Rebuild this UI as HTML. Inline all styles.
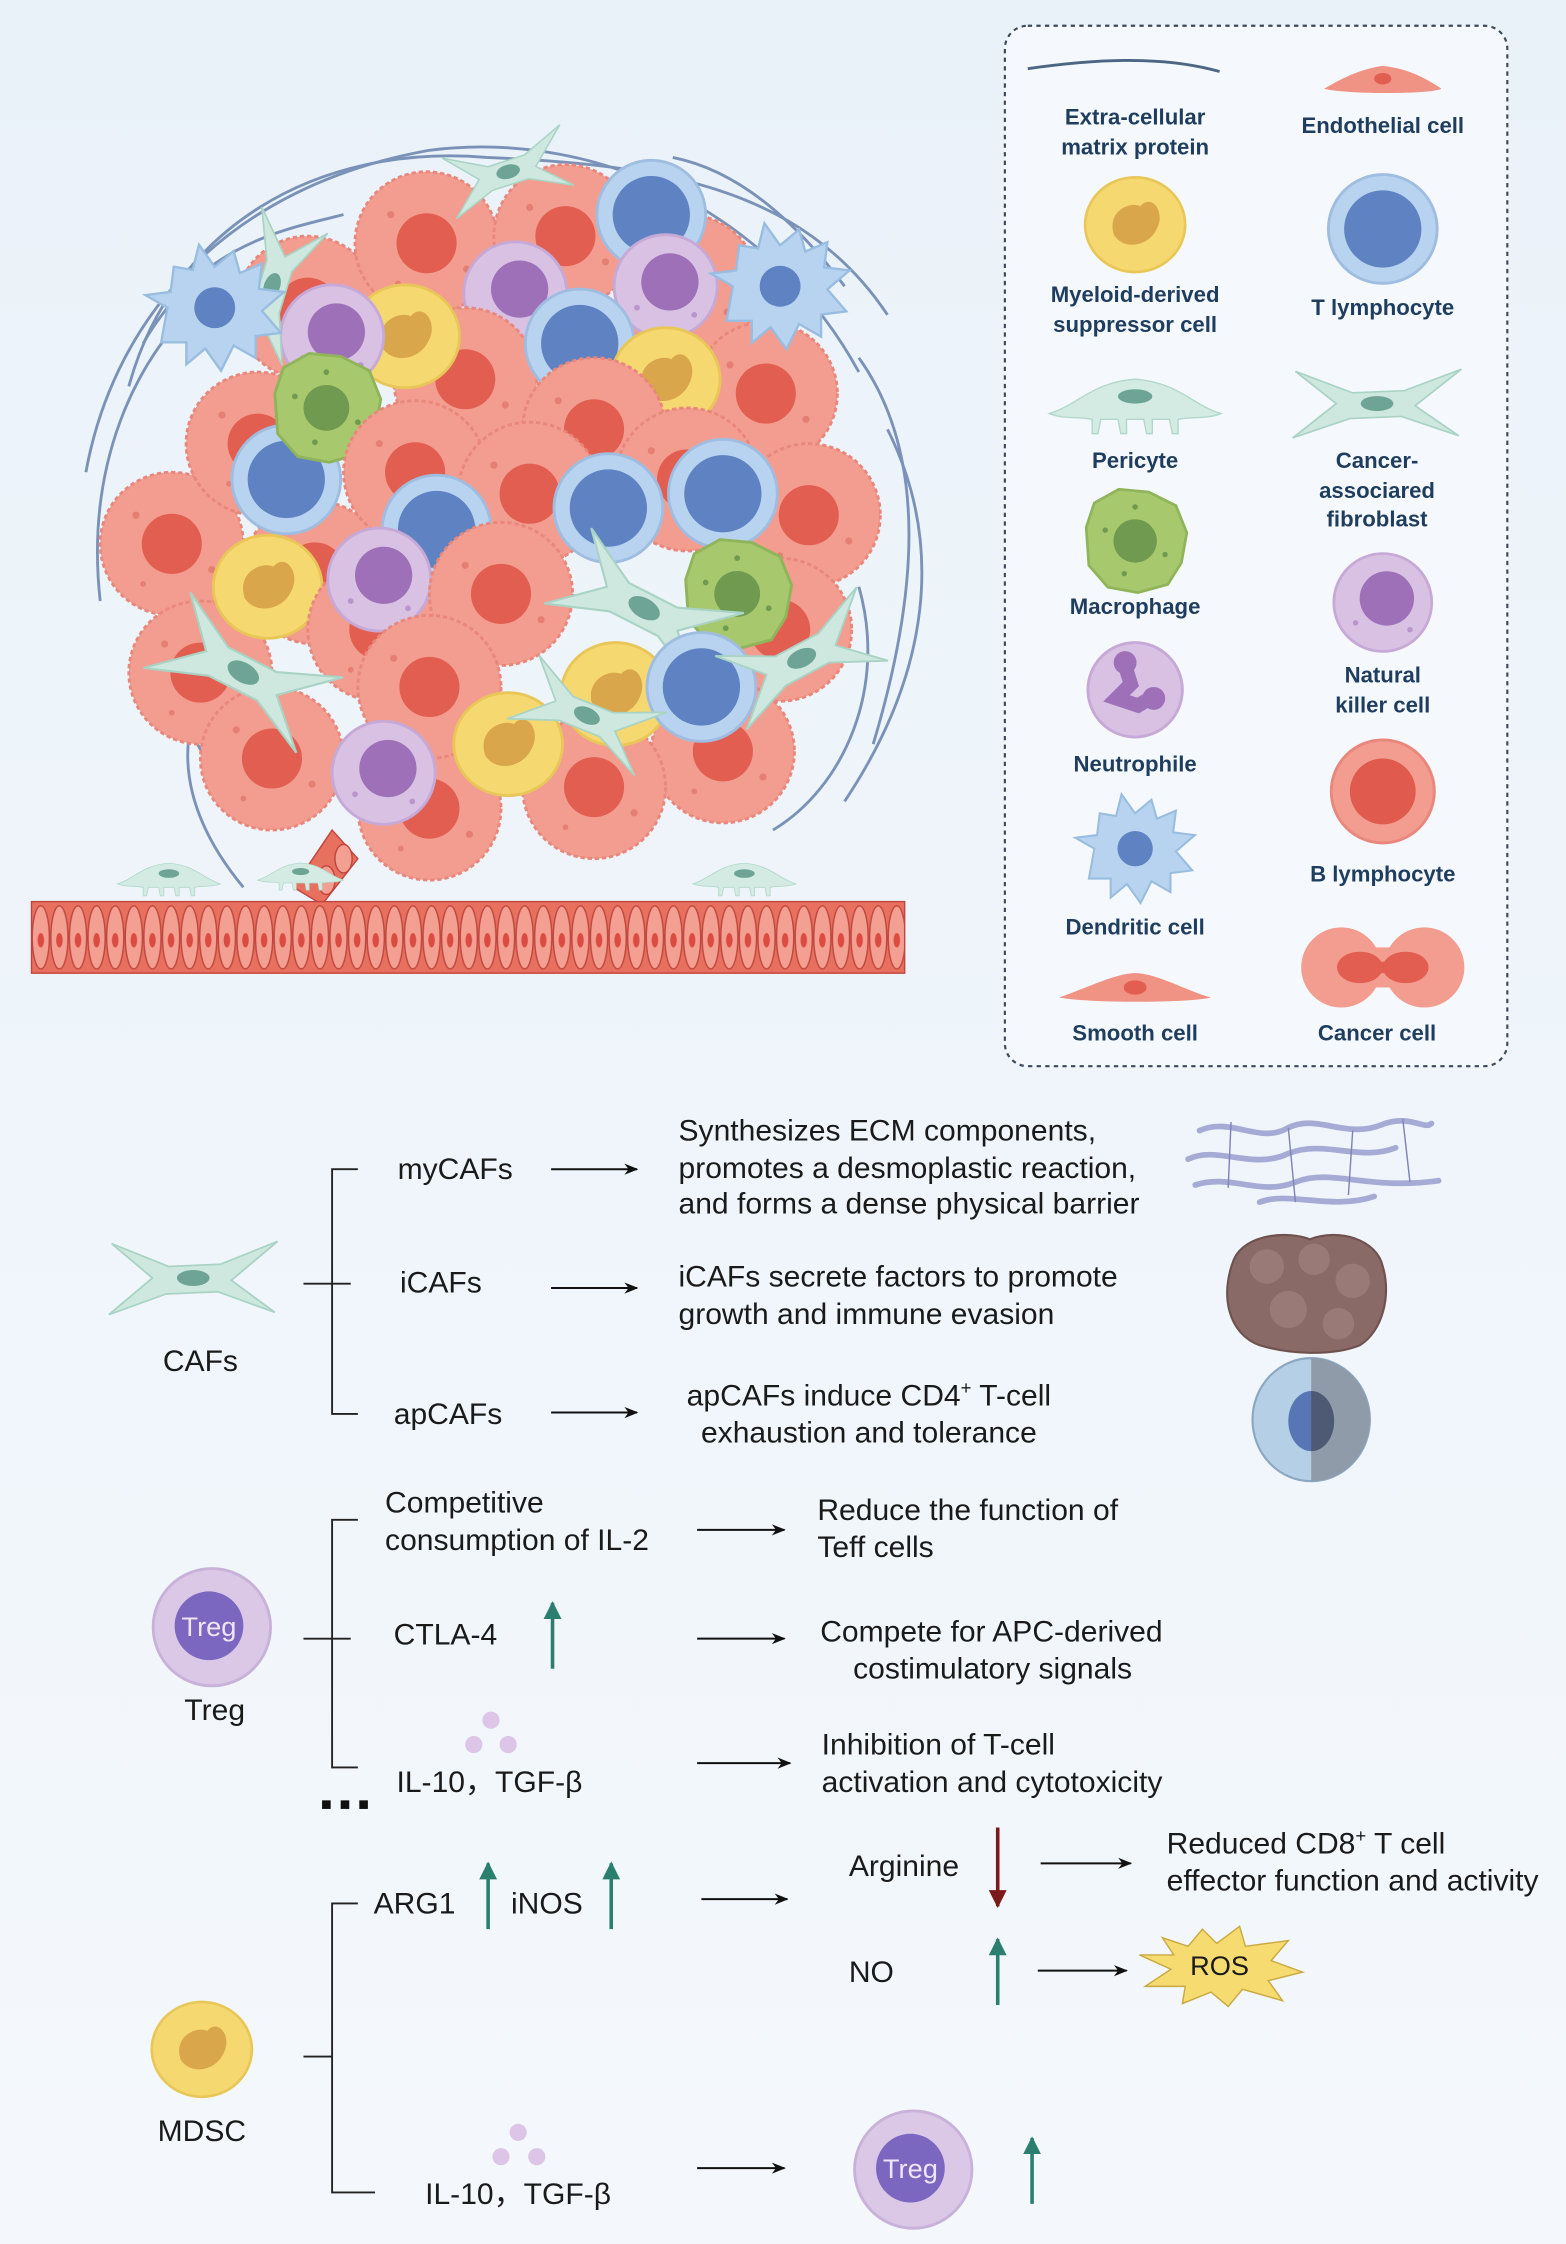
<!DOCTYPE html>
<html><head><meta charset="utf-8"><style>
html,body{margin:0;padding:0;width:1566px;height:2244px;overflow:hidden;background:#eef4fa}
svg{display:block}
text{font-family:"Liberation Sans",sans-serif}
.lg{font-weight:bold;font-size:15.5px;fill:#1f3d5e;text-anchor:middle}
.t{font-size:21px;fill:#1a1a1a}
</style></head><body>
<svg width="1566" height="2244" viewBox="0 0 1094 1568" preserveAspectRatio="none" xmlns="http://www.w3.org/2000/svg">
<defs>
<linearGradient id="bg" x1="0" y1="0" x2="0" y2="1"><stop offset="0" stop-color="#eaf2f9"/><stop offset="1" stop-color="#f4f8fc"/></linearGradient>
<g id="ca"><circle r="50" fill="#f29d8f" stroke="#e9877c" stroke-width="2" stroke-dasharray="3 2"/><circle r="21" fill="#e25e51"/><circle cx="-25" cy="-20" r="2.5" fill="#e57f73"/><circle cx="28" cy="18" r="2.5" fill="#e57f73"/><circle cx="-20" cy="28" r="2" fill="#e57f73"/></g>
<g id="tc"><circle r="38" fill="#b8d3ef" stroke="#9fbde0" stroke-width="2"/><circle r="27" fill="#5f83c2"/></g>
<g id="ye"><ellipse rx="38" ry="36" fill="#f6d870" stroke="#e9c658" stroke-width="2"/><path d="M-16,8 C-22,-10 -4,-18 4,-14 C12,-24 24,-10 16,4 C10,16 -8,20 -16,8Z" fill="#d9a64b"/></g>
<g id="nk"><circle r="36" fill="#d8c1e3" stroke="#c6a9d6" stroke-width="2"/><circle cx="3" cy="-3" r="20" fill="#9d70b8"/><circle cx="-20" cy="15" r="2" fill="#b895cc"/><circle cx="20" cy="20" r="2" fill="#b895cc"/></g>
<g id="ma"><path d="M-36,-10 L-30,-28 L-12,-38 L10,-36 L30,-26 L38,-6 L34,16 L24,32 L2,38 L-20,34 L-34,18Z" fill="#a8c86e" stroke="#8fb45a" stroke-width="2"/><circle r="16" fill="#6f9a4f"/><circle cx="-22" cy="-8" r="2" fill="#6f9a4f"/><circle cx="22" cy="10" r="2" fill="#6f9a4f"/><circle cx="0" cy="-25" r="2" fill="#6f9a4f"/><circle cx="-8" cy="24" r="2" fill="#6f9a4f"/></g>
<g id="caf"><path d="M-60,-30 L-18,-10 L20,-12 L62,-32 L28,2 L60,30 L18,12 L-20,14 L-62,32 L-30,0Z" fill="#cfe8df" stroke="#a9d3c4" stroke-width="1.5"/><ellipse rx="12" ry="7" fill="#6ea496"/></g>
<g id="dc"><path d="M-30,0 L-44,-8 L-28,-10 L-26,-26 L-14,-24 L-10,-40 L0,-26 L12,-36 L16,-22 L30,-28 L28,-12 L44,-10 L30,2 L42,16 L26,18 L26,32 L12,24 L4,40 L-6,26 L-18,36 L-18,22 L-34,22 Z" fill="#b8d3ef" stroke="#98bde0" stroke-width="1.5"/><circle r="13" fill="#5f83c2"/></g>
<g id="pe"><path d="M-60,6 C-40,0 -30,-16 0,-18 C30,-16 40,0 60,6 C50,10 40,8 30,10 L30,20 L26,20 L24,10 L12,10 L12,20 L8,20 L6,10 L-6,10 L-6,20 L-10,20 L-12,10 L-24,10 L-26,20 L-30,20 L-30,10 C-40,8 -50,10 -60,6Z" fill="#d3ebe3" stroke="#b3d8cb" stroke-width="1"/><ellipse cy="-6" rx="12" ry="5" fill="#6ea496"/></g>
<pattern id="ves" x="22" y="630" width="13" height="50" patternUnits="userSpaceOnUse"><rect width="13" height="50" fill="#e8705f"/><ellipse cx="6.5" cy="25" rx="6" ry="22" fill="#f3a092" stroke="#c0463e" stroke-width="1"/><ellipse cx="6.5" cy="27" rx="2.3" ry="5" fill="#dc4b42"/></pattern>
<marker id="ah" viewBox="0 0 10 10" refX="9" refY="5" markerWidth="7" markerHeight="7" orient="auto"><path d="M0,1 L10,5 L0,9 L3,5Z" fill="#111"/></marker>
<marker id="gh" viewBox="0 0 10 10" refX="9" refY="5" markerWidth="5" markerHeight="5" orient="auto"><path d="M0,0 L10,5 L0,10Z" fill="#2a7f6f"/></marker>
<marker id="rh" viewBox="0 0 10 10" refX="9" refY="5" markerWidth="5" markerHeight="5" orient="auto"><path d="M0,0 L10,5 L0,10Z" fill="#7b1a1a"/></marker>
</defs>
<rect width="1094" height="1568" fill="url(#bg)"/>

<g fill="none" stroke="#7b92b8" stroke-width="2">
<path d="M90,270 C120,160 220,100 340,110 C460,115 560,130 620,220"/>
<path d="M60,330 C80,220 160,130 300,105 C420,90 540,150 600,260"/>
<path d="M70,420 C60,330 90,250 150,200"/>
<path d="M600,250 C650,320 640,420 610,520"/>
<path d="M620,300 C660,380 650,470 590,560"/>
<path d="M150,540 C110,480 110,430 140,380"/>
<path d="M170,620 C120,560 120,500 160,460"/>
<path d="M540,580 C590,550 620,480 600,410"/>
<path d="M100,240 C140,170 200,160 240,150"/>
<path d="M470,110 C520,120 560,160 590,200"/>
</g>

<g>
<use href="#ca" transform="translate(120,380)"/>
<use href="#ca" transform="translate(140,470)"/>
<use href="#ca" transform="translate(180,310)"/>
<use href="#ca" transform="translate(215,215)"/>
<use href="#ca" transform="translate(298,170)"/>
<use href="#ca" transform="translate(395,165)"/>
<use href="#ca" transform="translate(480,200)"/>
<use href="#ca" transform="translate(535,275)"/>
<use href="#ca" transform="translate(565,360)"/>
<use href="#ca" transform="translate(545,440)"/>
<use href="#ca" transform="translate(505,525)"/>
<use href="#ca" transform="translate(190,530)"/>
<use href="#ca" transform="translate(300,565)"/>
<use href="#ca" transform="translate(415,550)"/>
<use href="#ca" transform="translate(220,400)"/>
<use href="#tc" transform="translate(455,150)"/>
<use href="#nk" transform="translate(465,200)"/>
<use href="#nk" transform="translate(360,205)"/>
<use href="#ca" transform="translate(325,265)"/>
<use href="#ye" transform="translate(283,235)"/>
<use href="#nk" transform="translate(232,235)"/>
<use href="#tc" transform="translate(405,240)"/>
<use href="#ye" transform="translate(465,265)"/>
<use href="#ca" transform="translate(415,300)"/>
<use href="#ca" transform="translate(480,335)"/>
<use href="#tc" transform="translate(505,345)"/>
<use href="#tc" transform="translate(200,335)"/>
<use href="#ma" transform="translate(228,285)"/>
<use href="#ca" transform="translate(290,330)"/>
<use href="#ca" transform="translate(370,345)"/>
<use href="#tc" transform="translate(305,370)"/>
<use href="#tc" transform="translate(425,355)"/>
<use href="#ye" transform="translate(187,410)"/>
<use href="#ca" transform="translate(265,440)"/>
<use href="#nk" transform="translate(265,405)"/>
<use href="#ca" transform="translate(350,415)"/>
<use href="#ma" transform="translate(515,415)"/>
<use href="#caf" transform="translate(450,425) rotate(30)"/>
<use href="#ca" transform="translate(300,480)"/>
<use href="#ye" transform="translate(430,485)"/>
<use href="#tc" transform="translate(490,480)"/>
<use href="#caf" transform="translate(560,460) rotate(-25) scale(0.9)"/>
<use href="#nk" transform="translate(268,540)"/>
<use href="#ye" transform="translate(355,520)"/>
<use href="#caf" transform="translate(170,470) rotate(30)"/>
<use href="#caf" transform="translate(410,500) rotate(25) scale(0.8)"/>
<use href="#caf" transform="translate(190,200) rotate(-70) scale(0.8)"/>
<use href="#caf" transform="translate(355,120) rotate(-15) scale(0.7)"/>
<use href="#dc" transform="translate(150,215) scale(1.1)"/>
<use href="#dc" transform="translate(545,200) scale(1.1)"/>
</g>
<path d="M250,600 L232,580 L205,620 L225,632 Z" fill="#e8705f" stroke="#c0463e"/>
<ellipse cx="228" cy="615" rx="6" ry="10" fill="#f3a092" stroke="#c0463e"/>
<ellipse cx="240" cy="600" rx="6" ry="10" fill="#f3a092" stroke="#c0463e"/>
<use href="#pe" transform="translate(118,614) scale(0.6)"/>
<use href="#pe" transform="translate(210,612) scale(0.5)"/>
<use href="#pe" transform="translate(520,614) scale(0.6)"/>
<rect x="22" y="630" width="610" height="50" fill="url(#ves)"/>
<rect x="22" y="630" width="610" height="50" fill="none" stroke="#c0463e" stroke-width="1"/>

<rect x="702" y="18" width="351" height="727" rx="16" fill="#f5f9fd" stroke="#3c4a5c" stroke-width="1.5" stroke-dasharray="3 3"/>
<path d="M718,48 C760,42 810,38 852,50" fill="none" stroke="#4d6684" stroke-width="2"/>
<text class="lg" x="793" y="87">Extra-cellular</text><text class="lg" x="793" y="108">matrix protein</text>
<path d="M925,62 C935,56 950,48 966,46 C985,48 998,56 1007,62 C1000,66 940,66 925,62Z" fill="#f09384"/><ellipse cx="966" cy="55" rx="6" ry="4" fill="#e25e51"/>
<text class="lg" x="966" y="93">Endothelial cell</text>
<use href="#ye" transform="translate(793,157) scale(0.92)"/>
<text class="lg" x="793" y="211">Myeloid-derived</text><text class="lg" x="793" y="232">suppressor cell</text>
<use href="#tc" transform="translate(966,160)"/>
<text class="lg" x="966" y="220">T lymphocyte</text>
<use href="#pe" transform="translate(793,283)"/>
<text class="lg" x="793" y="327">Pericyte</text>
<use href="#caf" transform="translate(962,282) scale(0.95,0.75)"/>
<text class="lg" x="962" y="327">Cancer-</text><text class="lg" x="962" y="348">associared</text><text class="lg" x="962" y="368">fibroblast</text>
<use href="#ma" transform="translate(793,378) scale(0.95)"/>
<text class="lg" x="793" y="429">Macrophage</text>
<use href="#nk" transform="translate(966,421) scale(0.95)"/>
<text class="lg" x="966" y="477">Natural</text><text class="lg" x="966" y="498">killer cell</text>
<circle cx="793" cy="482" r="33" fill="#d8c1e3" stroke="#c6a9d6" stroke-width="2"/>
<path d="M785,462 L790,478 L780,488 L795,493 L805,487" fill="none" stroke="#9d70b8" stroke-width="10" stroke-linecap="round"/>
<circle cx="786" cy="463" r="8" fill="#9d70b8"/><circle cx="806" cy="488" r="8" fill="#9d70b8"/>
<text class="lg" x="793" y="539">Neutrophile</text>
<circle cx="966" cy="553" r="36" fill="#f29d8f" stroke="#e9877c" stroke-width="2"/><circle cx="966" cy="553" r="23" fill="#e05a4d"/>
<text class="lg" x="966" y="616">B lymphocyte</text>
<use href="#dc" transform="translate(793,593) scale(0.95)"/>
<text class="lg" x="793" y="653">Dendritic cell</text>
<path d="M740,697 C760,690 780,680 793,680 C808,680 828,692 846,697 C830,701 760,701 740,697Z" fill="#f09384"/><ellipse cx="793" cy="690" rx="8" ry="5" fill="#e25e51"/>
<text class="lg" x="793" y="727">Smooth cell</text>
<circle cx="937" cy="676" r="28" fill="#f29d8f"/><circle cx="995" cy="676" r="28" fill="#f29d8f"/><rect x="950" y="662" width="32" height="28" fill="#f29d8f"/>
<ellipse cx="950" cy="676" rx="16" ry="11" fill="#e25e51"/><ellipse cx="982" cy="676" rx="16" ry="11" fill="#e25e51"/><rect x="955" y="672" width="22" height="8" fill="#e25e51"/>
<text class="lg" x="962" y="727">Cancer cell</text>

<use href="#caf" transform="translate(135,893) scale(0.95,0.8)"/>
<text class="t" x="140" y="958" text-anchor="middle">CAFs</text>
<g stroke="#222" stroke-width="1.3" fill="none">
<path d="M250,817 H232 V988 H250"/><path d="M212,897 H245"/>
<path d="M250,1062 H232 V1235 H250"/><path d="M212,1145 H245"/>
<path d="M250,1330 H232 V1532 H262"/><path d="M212,1437 H232"/>
</g>
<g stroke="#111" stroke-width="1.4" marker-end="url(#ah)">
<line x1="385" y1="817" x2="445" y2="817"/><line x1="385" y1="900" x2="445" y2="900"/><line x1="385" y1="987" x2="445" y2="987"/>
<line x1="487" y1="1069" x2="548" y2="1069"/><line x1="487" y1="1145" x2="548" y2="1145"/><line x1="487" y1="1232" x2="552" y2="1232"/>
<line x1="490" y1="1327" x2="550" y2="1327"/><line x1="727" y1="1302" x2="790" y2="1302"/><line x1="725" y1="1377" x2="787" y2="1377"/>
<line x1="487" y1="1515" x2="548" y2="1515"/>
</g>
<text class="t" x="318" y="824" text-anchor="middle">myCAFs</text>
<text class="t" x="308" y="903" text-anchor="middle">iCAFs</text>
<text class="t" x="313" y="995" text-anchor="middle">apCAFs</text>
<text class="t" x="474" y="797">Synthesizes ECM components,</text>
<text class="t" x="474" y="823">promotes a desmoplastic reaction,</text>
<text class="t" x="474" y="848">and forms a dense physical barrier</text>
<text class="t" x="474" y="899">iCAFs secrete factors to promote</text>
<text class="t" x="474" y="925">growth and immune evasion</text>
<text class="t" x="607" y="982" text-anchor="middle">apCAFs induce CD4<tspan font-size="13" dy="-8">+</tspan><tspan dy="8"> T-cell</tspan></text>
<text class="t" x="607" y="1008" text-anchor="middle">exhaustion and tolerance</text>
<g fill="none" stroke="#a6abd6" stroke-width="4" stroke-linecap="round">
<path d="M838,790 C860,780 880,800 900,788 C920,778 940,796 965,786 C985,778 995,790 1000,785"/>
<path d="M830,810 C850,800 875,818 900,806 C925,796 950,812 975,802"/>
<path d="M835,828 C860,820 880,836 905,826 C930,816 955,832 1005,825"/>
<path d="M880,840 C900,832 930,846 960,836"/>
</g>
<g stroke="#7e84b8" stroke-width="1"><line x1="860" y1="784" x2="858" y2="830"/><line x1="900" y1="788" x2="905" y2="840"/><line x1="945" y1="790" x2="942" y2="835"/><line x1="980" y1="782" x2="985" y2="826"/></g>
<path d="M862,880 C870,862 900,860 915,866 C935,858 962,866 966,885 C972,905 966,930 950,940 C930,948 900,946 880,940 C858,932 852,905 862,880Z" fill="#8a6a66" stroke="#6f5250" stroke-width="1.5"/>
<g fill="#9a7a76"><circle cx="885" cy="885" r="12"/><circle cx="918" cy="880" r="11"/><circle cx="945" cy="895" r="12"/><circle cx="900" cy="915" r="13"/><circle cx="935" cy="925" r="11"/></g>
<ellipse cx="916" cy="992" rx="41" ry="43" fill="#b5cfe6" stroke="#8aa8c4" stroke-width="1.5"/>
<path d="M916,949 A41,43 0 0 1 916,1035Z" fill="#8f9ba8"/>
<ellipse cx="916" cy="993" rx="16" ry="21" fill="#5876b5"/>
<path d="M916,972 A16,21 0 0 1 916,1014Z" fill="#4e5a74"/>

<circle cx="148" cy="1137" r="41" fill="#dbc8e6" stroke="#c9b2da" stroke-width="2"/>
<circle cx="146" cy="1136" r="24" fill="#7b67bf"/>
<text x="146" y="1143" font-size="19" fill="#ece6f7" text-anchor="middle">Treg</text>
<text class="t" x="150" y="1202" text-anchor="middle">Treg</text>
<text class="t" x="269" y="1057">Competitive</text>
<text class="t" x="269" y="1083">consumption of IL-2</text>
<text class="t" x="571" y="1062">Reduce the function of</text>
<text class="t" x="571" y="1088">Teff cells</text>
<text class="t" x="275" y="1149">CTLA-4</text>
<line x1="386" y1="1166" x2="386" y2="1120" stroke="#2a7f6f" stroke-width="2.5" marker-end="url(#gh)"/>
<text class="t" x="573" y="1147">Compete for APC-derived</text>
<text class="t" x="596" y="1173">costimulatory signals</text>
<g fill="#dcc5e6"><circle cx="343" cy="1202" r="6"/><circle cx="331" cy="1219" r="6"/><circle cx="355" cy="1219" r="6"/></g>
<text class="t" x="277" y="1252">IL-10，TGF-β</text>
<text class="t" x="574" y="1226">Inhibition of T-cell</text>
<text class="t" x="574" y="1252">activation and cytotoxicity</text>
<g fill="#111"><rect x="225" y="1258" width="6" height="6"/><rect x="238" y="1258" width="6" height="6"/><rect x="251" y="1258" width="6" height="6"/></g>

<use href="#ye" transform="translate(141,1432) scale(0.92)"/>
<text class="t" x="141" y="1496" text-anchor="middle">MDSC</text>
<text class="t" x="261" y="1337">ARG1</text>
<line x1="341" y1="1348" x2="341" y2="1302" stroke="#2a7f6f" stroke-width="2.5" marker-end="url(#gh)"/>
<text class="t" x="357" y="1337">iNOS</text>
<line x1="427" y1="1348" x2="427" y2="1302" stroke="#2a7f6f" stroke-width="2.5" marker-end="url(#gh)"/>
<text class="t" x="593" y="1311">Arginine</text>
<line x1="697" y1="1277" x2="697" y2="1332" stroke="#7b1a1a" stroke-width="2.5" marker-end="url(#rh)"/>
<text class="t" x="815" y="1295">Reduced CD8<tspan font-size="13" dy="-8">+</tspan><tspan dy="8"> T cell</tspan></text>
<text class="t" x="815" y="1321">effector function and activity</text>
<text class="t" x="593" y="1385">NO</text>
<line x1="697" y1="1401" x2="697" y2="1355" stroke="#2a7f6f" stroke-width="2.5" marker-end="url(#gh)"/>
<path d="M812,1354 L830,1360 L840,1348 L850,1358 L866,1346 L870,1360 L900,1356 L888,1370 L910,1378 L886,1384 L896,1398 L868,1390 L858,1402 L846,1392 L826,1400 L828,1388 L800,1388 L818,1376 L796,1366 L820,1366Z" fill="#f6dc70" stroke="#c9a940" stroke-width="1"/>
<text x="852" y="1380" font-size="19" fill="#1a1a1a" text-anchor="middle">ROS</text>
<g fill="#dcc5e6"><circle cx="362" cy="1490" r="6"/><circle cx="350" cy="1507" r="6"/><circle cx="375" cy="1507" r="6"/></g>
<text class="t" x="297" y="1540">IL-10，TGF-β</text>
<circle cx="638" cy="1516" r="41" fill="#dbc8e6" stroke="#c9b2da" stroke-width="2"/>
<circle cx="636" cy="1515" r="24" fill="#7b67bf"/>
<text x="636" y="1522" font-size="19" fill="#ece6f7" text-anchor="middle">Treg</text>
<line x1="721" y1="1540" x2="721" y2="1494" stroke="#2a7f6f" stroke-width="2.5" marker-end="url(#gh)"/>
</svg>
</body></html>
